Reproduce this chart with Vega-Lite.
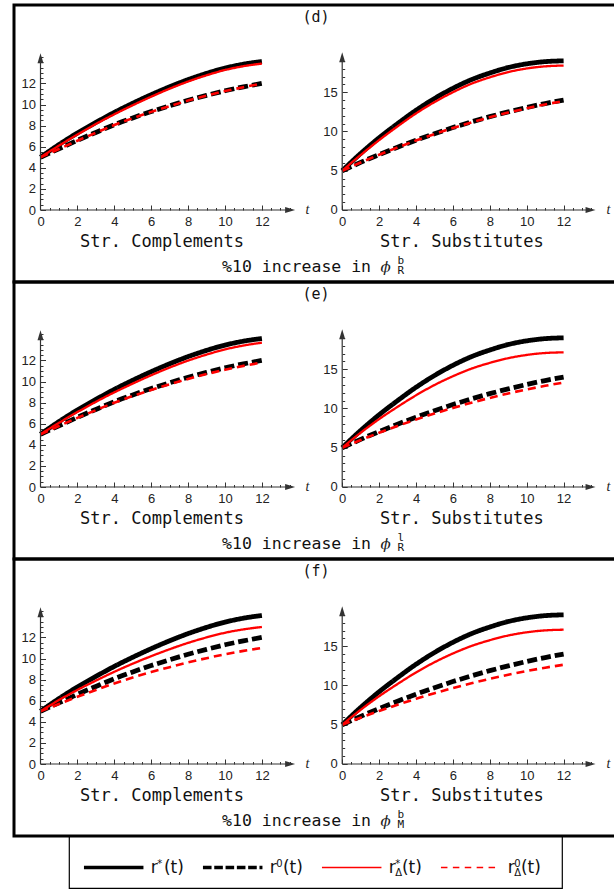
{
"$schema": "https://vega.github.io/schema/vega-lite/v6.json",
"background": "white",
"padding": {"left": 12, "top": 3, "right": 0, "bottom": 0},
"autosize": {"type": "pad"},
"config": {"view": {"stroke": null}, "axis": {"domain": false, "grid": false, "title": null, "labelFont": "Liberation Sans", "labelFontSize": 13, "labelColor": "#222", "tickColor": "#333", "tickWidth": 1, "labelFlush": false, "labelOverlap": false}},
"datasets": {
"curves": [
{"panel":"d","side":"L","t":0,"rs":5,"r0":5,"rsd":5,"r0d":5},
{"panel":"d","side":"L","t":1,"rs":6.2,"r0":5.8,"rsd":6.1,"r0d":5.78},
{"panel":"d","side":"L","t":2,"rs":7.3,"r0":6.6,"rsd":7.15,"r0d":6.57},
{"panel":"d","side":"L","t":3,"rs":8.3,"r0":7.35,"rsd":8.15,"r0d":7.32},
{"panel":"d","side":"L","t":4,"rs":9.25,"r0":8.08,"rsd":9.07,"r0d":8.05},
{"panel":"d","side":"L","t":5,"rs":10.12,"r0":8.73,"rsd":9.93,"r0d":8.7},
{"panel":"d","side":"L","t":6,"rs":10.93,"r0":9.33,"rsd":10.74,"r0d":9.3},
{"panel":"d","side":"L","t":7,"rs":11.68,"r0":9.88,"rsd":11.5,"r0d":9.85},
{"panel":"d","side":"L","t":8,"rs":12.36,"r0":10.4,"rsd":12.18,"r0d":10.37},
{"panel":"d","side":"L","t":9,"rs":12.95,"r0":10.87,"rsd":12.77,"r0d":10.84},
{"panel":"d","side":"L","t":10,"rs":13.45,"r0":11.3,"rsd":13.27,"r0d":11.27},
{"panel":"d","side":"L","t":11,"rs":13.82,"r0":11.67,"rsd":13.63,"r0d":11.64},
{"panel":"d","side":"L","t":12,"rs":14.08,"r0":12.0,"rsd":13.88,"r0d":11.97},
{"panel":"d","side":"R","t":0,"rs":5,"r0":5,"rsd":5,"r0d":5},
{"panel":"d","side":"R","t":1,"rs":7.2,"r0":6.06,"rsd":7.0,"r0d":6.05},
{"panel":"d","side":"R","t":2,"rs":9.2,"r0":7.06,"rsd":8.9,"r0d":7.04},
{"panel":"d","side":"R","t":3,"rs":11.0,"r0":8.0,"rsd":10.65,"r0d":7.97},
{"panel":"d","side":"R","t":4,"rs":12.7,"r0":8.89,"rsd":12.3,"r0d":8.85},
{"panel":"d","side":"R","t":5,"rs":14.2,"r0":9.72,"rsd":13.75,"r0d":9.67},
{"panel":"d","side":"R","t":6,"rs":15.5,"r0":10.5,"rsd":15.0,"r0d":10.44},
{"panel":"d","side":"R","t":7,"rs":16.6,"r0":11.22,"rsd":16.08,"r0d":11.15},
{"panel":"d","side":"R","t":8,"rs":17.45,"r0":11.89,"rsd":16.9,"r0d":11.81},
{"panel":"d","side":"R","t":9,"rs":18.15,"r0":12.5,"rsd":17.57,"r0d":12.41},
{"panel":"d","side":"R","t":10,"rs":18.62,"r0":13.06,"rsd":18.03,"r0d":12.96},
{"panel":"d","side":"R","t":11,"rs":18.9,"r0":13.56,"rsd":18.3,"r0d":13.45},
{"panel":"d","side":"R","t":12,"rs":19.0,"r0":14.0,"rsd":18.4,"r0d":13.88},
{"panel":"e","side":"L","t":0,"rs":5,"r0":5,"rsd":5,"r0d":5},
{"panel":"e","side":"L","t":1,"rs":6.2,"r0":5.8,"rsd":6.08,"r0d":5.78},
{"panel":"e","side":"L","t":2,"rs":7.3,"r0":6.6,"rsd":7.1,"r0d":6.55},
{"panel":"e","side":"L","t":3,"rs":8.3,"r0":7.35,"rsd":8.07,"r0d":7.28},
{"panel":"e","side":"L","t":4,"rs":9.25,"r0":8.08,"rsd":8.97,"r0d":7.99},
{"panel":"e","side":"L","t":5,"rs":10.12,"r0":8.73,"rsd":9.8,"r0d":8.62},
{"panel":"e","side":"L","t":6,"rs":10.93,"r0":9.33,"rsd":10.59,"r0d":9.2},
{"panel":"e","side":"L","t":7,"rs":11.68,"r0":9.88,"rsd":11.32,"r0d":9.74},
{"panel":"e","side":"L","t":8,"rs":12.36,"r0":10.4,"rsd":11.98,"r0d":10.24},
{"panel":"e","side":"L","t":9,"rs":12.95,"r0":10.87,"rsd":12.55,"r0d":10.7},
{"panel":"e","side":"L","t":10,"rs":13.45,"r0":11.3,"rsd":13.04,"r0d":11.12},
{"panel":"e","side":"L","t":11,"rs":13.82,"r0":11.67,"rsd":13.41,"r0d":11.48},
{"panel":"e","side":"L","t":12,"rs":14.08,"r0":12.0,"rsd":13.68,"r0d":11.8},
{"panel":"e","side":"R","t":0,"rs":5,"r0":5,"rsd":5,"r0d":5},
{"panel":"e","side":"R","t":1,"rs":7.2,"r0":6.06,"rsd":6.91,"r0d":5.98},
{"panel":"e","side":"R","t":2,"rs":9.2,"r0":7.06,"rsd":8.65,"r0d":6.9},
{"panel":"e","side":"R","t":3,"rs":11.0,"r0":8.0,"rsd":10.21,"r0d":7.77},
{"panel":"e","side":"R","t":4,"rs":12.7,"r0":8.89,"rsd":11.68,"r0d":8.59},
{"panel":"e","side":"R","t":5,"rs":14.2,"r0":9.72,"rsd":12.99,"r0d":9.35},
{"panel":"e","side":"R","t":6,"rs":15.5,"r0":10.5,"rsd":14.11,"r0d":10.07},
{"panel":"e","side":"R","t":7,"rs":16.6,"r0":11.22,"rsd":15.07,"r0d":10.73},
{"panel":"e","side":"R","t":8,"rs":17.45,"r0":11.89,"rsd":15.81,"r0d":11.35},
{"panel":"e","side":"R","t":9,"rs":18.15,"r0":12.5,"rsd":16.41,"r0d":11.92},
{"panel":"e","side":"R","t":10,"rs":18.62,"r0":13.06,"rsd":16.82,"r0d":12.43},
{"panel":"e","side":"R","t":11,"rs":18.9,"r0":13.56,"rsd":17.07,"r0d":12.89},
{"panel":"e","side":"R","t":12,"rs":19.0,"r0":14.0,"rsd":17.15,"r0d":13.3},
{"panel":"f","side":"L","t":0,"rs":5,"r0":5,"rsd":5,"r0d":5},
{"panel":"f","side":"L","t":1,"rs":6.2,"r0":5.8,"rsd":6.06,"r0d":5.69},
{"panel":"f","side":"L","t":2,"rs":7.3,"r0":6.6,"rsd":7.02,"r0d":6.37},
{"panel":"f","side":"L","t":3,"rs":8.3,"r0":7.35,"rsd":7.9,"r0d":7.01},
{"panel":"f","side":"L","t":4,"rs":9.25,"r0":8.08,"rsd":8.74,"r0d":7.64},
{"panel":"f","side":"L","t":5,"rs":10.12,"r0":8.73,"rsd":9.51,"r0d":8.2},
{"panel":"f","side":"L","t":6,"rs":10.93,"r0":9.33,"rsd":10.22,"r0d":8.71},
{"panel":"f","side":"L","t":7,"rs":11.68,"r0":9.88,"rsd":10.88,"r0d":9.18},
{"panel":"f","side":"L","t":8,"rs":12.36,"r0":10.4,"rsd":11.48,"r0d":9.63},
{"panel":"f","side":"L","t":9,"rs":12.95,"r0":10.87,"rsd":12.0,"r0d":10.03},
{"panel":"f","side":"L","t":10,"rs":13.45,"r0":11.3,"rsd":12.44,"r0d":10.4},
{"panel":"f","side":"L","t":11,"rs":13.82,"r0":11.67,"rsd":12.76,"r0d":10.72},
{"panel":"f","side":"L","t":12,"rs":14.08,"r0":12.0,"rsd":12.99,"r0d":11.0},
{"panel":"f","side":"R","t":0,"rs":5,"r0":5,"rsd":5,"r0d":5},
{"panel":"f","side":"R","t":1,"rs":7.2,"r0":6.06,"rsd":6.9,"r0d":5.9},
{"panel":"f","side":"R","t":2,"rs":9.2,"r0":7.06,"rsd":8.63,"r0d":6.75},
{"panel":"f","side":"R","t":3,"rs":11.0,"r0":8.0,"rsd":10.19,"r0d":7.55},
{"panel":"f","side":"R","t":4,"rs":12.7,"r0":8.89,"rsd":11.66,"r0d":8.3},
{"panel":"f","side":"R","t":5,"rs":14.2,"r0":9.72,"rsd":12.96,"r0d":9.01},
{"panel":"f","side":"R","t":6,"rs":15.5,"r0":10.5,"rsd":14.08,"r0d":9.67},
{"panel":"f","side":"R","t":7,"rs":16.6,"r0":11.22,"rsd":15.03,"r0d":10.28},
{"panel":"f","side":"R","t":8,"rs":17.45,"r0":11.89,"rsd":15.77,"r0d":10.85},
{"panel":"f","side":"R","t":9,"rs":18.15,"r0":12.5,"rsd":16.37,"r0d":11.37},
{"panel":"f","side":"R","t":10,"rs":18.62,"r0":13.06,"rsd":16.78,"r0d":11.84},
{"panel":"f","side":"R","t":11,"rs":18.9,"r0":13.56,"rsd":17.02,"r0d":12.27},
{"panel":"f","side":"R","t":12,"rs":19.0,"r0":14.0,"rsd":17.11,"r0d":12.64}
],
"legend": [
{"series":"rs","end":"a","main":"r","sup":"*","sub":""},
{"series":"rs","end":"b","main":"r","sup":"*","sub":""},
{"series":"r0","end":"a","main":"r","sup":"0","sub":""},
{"series":"r0","end":"b","main":"r","sup":"0","sub":""},
{"series":"rsd","end":"a","main":"r","sup":"*","sub":"Δ"},
{"series":"rsd","end":"b","main":"r","sup":"*","sub":"Δ"},
{"series":"r0d","end":"a","main":"r","sup":"0","sub":"Δ"},
{"series":"r0d","end":"b","main":"r","sup":"0","sub":"Δ"}
]
},
"vconcat": [
{
"width": 603, "height": 277,
"view": {"stroke": "black", "strokeWidth": 3},
"layer": [
{"data": {"name": "curves"},
 "transform": [{"filter": "datum.panel === 'd' && datum.side === 'L'"}, {"fold": ["rs","r0","rsd","r0d"], "as": ["series","v"]}],
 "mark": {"type": "line", "interpolate": "monotone"},
 "encoding": {
  "x": {"field": "t", "type": "quantitative", "scale": {"domain": [-1.4363, 31.2466], "nice": false, "zero": false}, "axis": {"orient": "bottom", "offset": -72, "values": [0,2,4,6,8,10,12], "tickSize": -5, "labelPadding": 10.5}},
  "y": {"field": "v", "type": "quantitative", "scale": {"domain": [-6.8246, 19.4313], "nice": false, "zero": false}, "axis": {"orient": "left", "offset": -26.5, "values": [0,2,4,6,8,10,12], "tickSize": -5, "labelPadding": 10}},
  "color": {"field": "series", "type": "nominal", "scale": {"domain": ["rs","r0","rsd","r0d"], "range": ["#000000","#000000","#ff0000","#ff0000"]}, "legend": null},
  "strokeDash": {"field": "series", "type": "nominal", "scale": {"domain": ["rs","r0","rsd","r0d"], "range": [[1,0],[10,4],[1,0],[8,5]]}, "legend": null},
  "strokeWidth": {"condition": [{"test": "datum.series === 'rs' || datum.series === 'r0'", "value": 4.8}, {"test": "datum.series === 'r0d'", "value": 2.6}], "value": 2.3}
 }},
{"data": {"values": [{}]}, "mark": {"type": "rule", "color": "#333", "strokeWidth": 1.2}, "encoding": {"x": {"datum": 0, "type": "quantitative", "scale": {"domain": [-1.4363, 31.2466], "nice": false, "zero": false}, "axis": {"orient": "bottom", "offset": -72, "values": [0.5,1,1.5,2.5,3,3.5,4.5,5,5.5,6.5,7,7.5,8.5,9,9.5,10.5,11,11.5,12.5,13,13.5], "labels": false, "tickSize": -2.5}}, "x2": {"datum": 13.5}, "y": {"datum": 0, "type": "quantitative", "scale": {"domain": [-6.8246, 19.4313], "nice": false, "zero": false}, "axis": null}}},
{"data": {"values": [{}]}, "mark": {"type": "rule", "color": "#333", "strokeWidth": 1.2}, "encoding": {"x": {"datum": 0, "type": "quantitative", "scale": {"domain": [-1.4363, 31.2466], "nice": false, "zero": false}, "axis": null}, "y": {"datum": 0, "type": "quantitative", "scale": {"domain": [-6.8246, 19.4313], "nice": false, "zero": false}, "axis": {"orient": "left", "offset": -26.5, "values": [0.5,1,1.5,2.5,3,3.5,4.5,5,5.5,6.5,7,7.5,8.5,9,9.5,10.5,11,11.5,12.5,13,13.5,14,14.5], "labels": false, "tickSize": -2.5}}, "y2": {"datum": 14.4}}},
{"data": {"values": [{}]}, "mark": {"type": "point", "shape": "M-1,-0.6L1,0L-1,0.6Z", "filled": true, "color": "#333", "opacity": 1, "size": 100}, "encoding": {"x": {"datum": 13.53, "type": "quantitative", "scale": {"domain": [-1.4363, 31.2466], "nice": false, "zero": false}, "axis": null}, "y": {"datum": 0, "type": "quantitative", "scale": {"domain": [-6.8246, 19.4313], "nice": false, "zero": false}, "axis": null}}},
{"data": {"values": [{}]}, "mark": {"type": "point", "shape": "M-0.6,1L0,-1L0.6,1Z", "filled": true, "color": "#333", "opacity": 1, "size": 100}, "encoding": {"x": {"datum": 0, "type": "quantitative", "scale": {"domain": [-1.4363, 31.2466], "nice": false, "zero": false}, "axis": null}, "y": {"datum": 14.39, "type": "quantitative", "scale": {"domain": [-6.8246, 19.4313], "nice": false, "zero": false}, "axis": null}}},
{"data": {"values": [{}]}, "mark": {"type": "text", "text": "t", "font": "Liberation Serif", "fontStyle": "italic", "fontSize": 14, "align": "left", "baseline": "alphabetic", "color": "#222"}, "encoding": {"x": {"datum": 14.36, "type": "quantitative", "scale": {"domain": [-1.4363, 31.2466], "nice": false, "zero": false}, "axis": null}, "y": {"datum": -0.36, "type": "quantitative", "scale": {"domain": [-6.8246, 19.4313], "nice": false, "zero": false}, "axis": null}}},
{"data": {"values": [{}]}, "mark": {"type": "text", "text": "Str. Complements", "font": "DejaVu Sans Mono", "fontSize": 17, "align": "center", "baseline": "alphabetic", "color": "#111"}, "encoding": {"x": {"datum": 6.585, "type": "quantitative", "scale": {"domain": [-1.4363, 31.2466], "nice": false, "zero": false}, "axis": null}, "y": {"datum": -3.46, "type": "quantitative", "scale": {"domain": [-6.8246, 19.4313], "nice": false, "zero": false}, "axis": null}}},
{"data": {"values": [{}]}, "mark": {"type": "text", "text": "(d)", "font": "DejaVu Sans Mono", "fontSize": 15, "align": "center", "baseline": "alphabetic", "color": "#111"}, "encoding": {"x": {"datum": 14.93, "type": "quantitative", "scale": {"domain": [-1.4363, 31.2466], "nice": false, "zero": false}, "axis": null}, "y": {"datum": 17.8, "type": "quantitative", "scale": {"domain": [-6.8246, 19.4313], "nice": false, "zero": false}, "axis": null}}},
{"data": {"values": [{}]}, "mark": {"type": "text", "text": "%10 increase in", "font": "DejaVu Sans Mono", "fontSize": 16.5, "align": "left", "baseline": "alphabetic", "color": "#111"}, "encoding": {"x": {"datum": 9.84, "type": "quantitative", "scale": {"domain": [-1.4363, 31.2466], "nice": false, "zero": false}, "axis": null}, "y": {"datum": -5.83, "type": "quantitative", "scale": {"domain": [-6.8246, 19.4313], "nice": false, "zero": false}, "axis": null}}},
{"data": {"values": [{}]}, "mark": {"type": "text", "text": "ϕ", "font": "DejaVu Serif", "fontStyle": "italic", "fontSize": 15, "align": "left", "baseline": "alphabetic", "color": "#222"}, "encoding": {"x": {"datum": 18.43, "type": "quantitative", "scale": {"domain": [-1.4363, 31.2466], "nice": false, "zero": false}, "axis": null}, "y": {"datum": -5.83, "type": "quantitative", "scale": {"domain": [-6.8246, 19.4313], "nice": false, "zero": false}, "axis": null}}},
{"data": {"values": [{}]}, "mark": {"type": "text", "text": "b", "font": "DejaVu Sans Mono", "fontSize": 11, "align": "left", "baseline": "alphabetic", "color": "#111"}, "encoding": {"x": {"datum": 19.35, "type": "quantitative", "scale": {"domain": [-1.4363, 31.2466], "nice": false, "zero": false}, "axis": null}, "y": {"datum": -5.1, "type": "quantitative", "scale": {"domain": [-6.8246, 19.4313], "nice": false, "zero": false}, "axis": null}}},
{"data": {"values": [{}]}, "mark": {"type": "text", "text": "R", "font": "DejaVu Sans Mono", "fontSize": 11, "align": "left", "baseline": "alphabetic", "color": "#111"}, "encoding": {"x": {"datum": 19.35, "type": "quantitative", "scale": {"domain": [-1.4363, 31.2466], "nice": false, "zero": false}, "axis": null}, "y": {"datum": -6.11, "type": "quantitative", "scale": {"domain": [-6.8246, 19.4313], "nice": false, "zero": false}, "axis": null}}},
{"data": {"name": "curves"},
 "transform": [{"filter": "datum.panel === 'd' && datum.side === 'R'"}, {"fold": ["rs","r0","rsd","r0d"], "as": ["series","v"]}],
 "mark": {"type": "line", "interpolate": "monotone"},
 "encoding": {
  "x": {"field": "t", "type": "quantitative", "scale": {"domain": [-17.789, 14.894], "nice": false, "zero": false}, "axis": {"orient": "bottom", "offset": -72, "values": [0,2,4,6,8,10,12], "tickSize": -5, "labelPadding": 10.5}},
  "y": {"field": "v", "type": "quantitative", "scale": {"domain": [-9.172, 26.1146], "nice": false, "zero": false}, "axis": {"orient": "left", "offset": -328.2, "values": [0,5,10,15], "tickSize": -5, "labelPadding": 10}},
  "color": {"field": "series", "type": "nominal", "scale": {"domain": ["rs","r0","rsd","r0d"], "range": ["#000000","#000000","#ff0000","#ff0000"]}, "legend": null},
  "strokeDash": {"field": "series", "type": "nominal", "scale": {"domain": ["rs","r0","rsd","r0d"], "range": [[1,0],[10,4],[1,0],[8,5]]}, "legend": null},
  "strokeWidth": {"condition": [{"test": "datum.series === 'rs' || datum.series === 'r0'", "value": 4.8}, {"test": "datum.series === 'r0d'", "value": 2.6}], "value": 2.3}
 }},
{"data": {"values": [{}]}, "mark": {"type": "rule", "color": "#333", "strokeWidth": 1.2}, "encoding": {"x": {"datum": 0, "type": "quantitative", "scale": {"domain": [-17.789, 14.894], "nice": false, "zero": false}, "axis": {"orient": "bottom", "offset": -72, "values": [0.5,1,1.5,2.5,3,3.5,4.5,5,5.5,6.5,7,7.5,8.5,9,9.5,10.5,11,11.5,12.5,13,13.5], "labels": false, "tickSize": -2.5}}, "x2": {"datum": 13.45}, "y": {"datum": 0, "type": "quantitative", "scale": {"domain": [-9.172, 26.1146], "nice": false, "zero": false}, "axis": null}}},
{"data": {"values": [{}]}, "mark": {"type": "rule", "color": "#333", "strokeWidth": 1.2}, "encoding": {"x": {"datum": 0, "type": "quantitative", "scale": {"domain": [-17.789, 14.894], "nice": false, "zero": false}, "axis": null}, "y": {"datum": 0, "type": "quantitative", "scale": {"domain": [-9.172, 26.1146], "nice": false, "zero": false}, "axis": {"orient": "left", "offset": -328.2, "values": [1,2,3,4,6,7,8,9,11,12,13,14,16,17,18,19], "labels": false, "tickSize": -2.5}}, "y2": {"datum": 19.5}}},
{"data": {"values": [{}]}, "mark": {"type": "point", "shape": "M-1,-0.6L1,0L-1,0.6Z", "filled": true, "color": "#333", "opacity": 1, "size": 100}, "encoding": {"x": {"datum": 13.46, "type": "quantitative", "scale": {"domain": [-17.789, 14.894], "nice": false, "zero": false}, "axis": null}, "y": {"datum": 0, "type": "quantitative", "scale": {"domain": [-9.172, 26.1146], "nice": false, "zero": false}, "axis": null}}},
{"data": {"values": [{}]}, "mark": {"type": "point", "shape": "M-0.6,1L0,-1L0.6,1Z", "filled": true, "color": "#333", "opacity": 1, "size": 100}, "encoding": {"x": {"datum": 0, "type": "quantitative", "scale": {"domain": [-17.789, 14.894], "nice": false, "zero": false}, "axis": null}, "y": {"datum": 19.46, "type": "quantitative", "scale": {"domain": [-9.172, 26.1146], "nice": false, "zero": false}, "axis": null}}},
{"data": {"values": [{}]}, "mark": {"type": "text", "text": "t", "font": "Liberation Serif", "fontStyle": "italic", "fontSize": 14, "align": "left", "baseline": "alphabetic", "color": "#222"}, "encoding": {"x": {"datum": 14.33, "type": "quantitative", "scale": {"domain": [-17.789, 14.894], "nice": false, "zero": false}, "axis": null}, "y": {"datum": -0.48, "type": "quantitative", "scale": {"domain": [-9.172, 26.1146], "nice": false, "zero": false}, "axis": null}}},
{"data": {"values": [{}]}, "mark": {"type": "text", "text": "Str. Substitutes", "font": "DejaVu Sans Mono", "fontSize": 17, "align": "center", "baseline": "alphabetic", "color": "#111"}, "encoding": {"x": {"datum": 6.49, "type": "quantitative", "scale": {"domain": [-17.789, 14.894], "nice": false, "zero": false}, "axis": null}, "y": {"datum": -4.65, "type": "quantitative", "scale": {"domain": [-9.172, 26.1146], "nice": false, "zero": false}, "axis": null}}}
],
"resolve": {"scale": {"x": "independent", "y": "independent"}, "axis": {"x": "independent", "y": "independent"}}
},
{
"width": 603, "height": 277,
"view": {"stroke": "black", "strokeWidth": 3},
"layer": [
{"data": {"name": "curves"},
 "transform": [{"filter": "datum.panel === 'e' && datum.side === 'L'"}, {"fold": ["rs","r0","rsd","r0d"], "as": ["series","v"]}],
 "mark": {"type": "line", "interpolate": "monotone"},
 "encoding": {
  "x": {"field": "t", "type": "quantitative", "scale": {"domain": [-1.4363, 31.2466], "nice": false, "zero": false}, "axis": {"orient": "bottom", "offset": -72, "values": [0,2,4,6,8,10,12], "tickSize": -5, "labelPadding": 10.5}},
  "y": {"field": "v", "type": "quantitative", "scale": {"domain": [-6.8246, 19.4313], "nice": false, "zero": false}, "axis": {"orient": "left", "offset": -26.5, "values": [0,2,4,6,8,10,12], "tickSize": -5, "labelPadding": 10}},
  "color": {"field": "series", "type": "nominal", "scale": {"domain": ["rs","r0","rsd","r0d"], "range": ["#000000","#000000","#ff0000","#ff0000"]}, "legend": null},
  "strokeDash": {"field": "series", "type": "nominal", "scale": {"domain": ["rs","r0","rsd","r0d"], "range": [[1,0],[10,4],[1,0],[8,5]]}, "legend": null},
  "strokeWidth": {"condition": [{"test": "datum.series === 'rs' || datum.series === 'r0'", "value": 4.8}, {"test": "datum.series === 'r0d'", "value": 2.6}], "value": 2.3}
 }},
{"data": {"values": [{}]}, "mark": {"type": "rule", "color": "#333", "strokeWidth": 1.2}, "encoding": {"x": {"datum": 0, "type": "quantitative", "scale": {"domain": [-1.4363, 31.2466], "nice": false, "zero": false}, "axis": {"orient": "bottom", "offset": -72, "values": [0.5,1,1.5,2.5,3,3.5,4.5,5,5.5,6.5,7,7.5,8.5,9,9.5,10.5,11,11.5,12.5,13,13.5], "labels": false, "tickSize": -2.5}}, "x2": {"datum": 13.5}, "y": {"datum": 0, "type": "quantitative", "scale": {"domain": [-6.8246, 19.4313], "nice": false, "zero": false}, "axis": null}}},
{"data": {"values": [{}]}, "mark": {"type": "rule", "color": "#333", "strokeWidth": 1.2}, "encoding": {"x": {"datum": 0, "type": "quantitative", "scale": {"domain": [-1.4363, 31.2466], "nice": false, "zero": false}, "axis": null}, "y": {"datum": 0, "type": "quantitative", "scale": {"domain": [-6.8246, 19.4313], "nice": false, "zero": false}, "axis": {"orient": "left", "offset": -26.5, "values": [0.5,1,1.5,2.5,3,3.5,4.5,5,5.5,6.5,7,7.5,8.5,9,9.5,10.5,11,11.5,12.5,13,13.5,14,14.5], "labels": false, "tickSize": -2.5}}, "y2": {"datum": 14.4}}},
{"data": {"values": [{}]}, "mark": {"type": "point", "shape": "M-1,-0.6L1,0L-1,0.6Z", "filled": true, "color": "#333", "opacity": 1, "size": 100}, "encoding": {"x": {"datum": 13.53, "type": "quantitative", "scale": {"domain": [-1.4363, 31.2466], "nice": false, "zero": false}, "axis": null}, "y": {"datum": 0, "type": "quantitative", "scale": {"domain": [-6.8246, 19.4313], "nice": false, "zero": false}, "axis": null}}},
{"data": {"values": [{}]}, "mark": {"type": "point", "shape": "M-0.6,1L0,-1L0.6,1Z", "filled": true, "color": "#333", "opacity": 1, "size": 100}, "encoding": {"x": {"datum": 0, "type": "quantitative", "scale": {"domain": [-1.4363, 31.2466], "nice": false, "zero": false}, "axis": null}, "y": {"datum": 14.39, "type": "quantitative", "scale": {"domain": [-6.8246, 19.4313], "nice": false, "zero": false}, "axis": null}}},
{"data": {"values": [{}]}, "mark": {"type": "text", "text": "t", "font": "Liberation Serif", "fontStyle": "italic", "fontSize": 14, "align": "left", "baseline": "alphabetic", "color": "#222"}, "encoding": {"x": {"datum": 14.36, "type": "quantitative", "scale": {"domain": [-1.4363, 31.2466], "nice": false, "zero": false}, "axis": null}, "y": {"datum": -0.36, "type": "quantitative", "scale": {"domain": [-6.8246, 19.4313], "nice": false, "zero": false}, "axis": null}}},
{"data": {"values": [{}]}, "mark": {"type": "text", "text": "Str. Complements", "font": "DejaVu Sans Mono", "fontSize": 17, "align": "center", "baseline": "alphabetic", "color": "#111"}, "encoding": {"x": {"datum": 6.585, "type": "quantitative", "scale": {"domain": [-1.4363, 31.2466], "nice": false, "zero": false}, "axis": null}, "y": {"datum": -3.46, "type": "quantitative", "scale": {"domain": [-6.8246, 19.4313], "nice": false, "zero": false}, "axis": null}}},
{"data": {"values": [{}]}, "mark": {"type": "text", "text": "(e)", "font": "DejaVu Sans Mono", "fontSize": 15, "align": "center", "baseline": "alphabetic", "color": "#111"}, "encoding": {"x": {"datum": 14.93, "type": "quantitative", "scale": {"domain": [-1.4363, 31.2466], "nice": false, "zero": false}, "axis": null}, "y": {"datum": 17.8, "type": "quantitative", "scale": {"domain": [-6.8246, 19.4313], "nice": false, "zero": false}, "axis": null}}},
{"data": {"values": [{}]}, "mark": {"type": "text", "text": "%10 increase in", "font": "DejaVu Sans Mono", "fontSize": 16.5, "align": "left", "baseline": "alphabetic", "color": "#111"}, "encoding": {"x": {"datum": 9.84, "type": "quantitative", "scale": {"domain": [-1.4363, 31.2466], "nice": false, "zero": false}, "axis": null}, "y": {"datum": -5.83, "type": "quantitative", "scale": {"domain": [-6.8246, 19.4313], "nice": false, "zero": false}, "axis": null}}},
{"data": {"values": [{}]}, "mark": {"type": "text", "text": "ϕ", "font": "DejaVu Serif", "fontStyle": "italic", "fontSize": 15, "align": "left", "baseline": "alphabetic", "color": "#222"}, "encoding": {"x": {"datum": 18.43, "type": "quantitative", "scale": {"domain": [-1.4363, 31.2466], "nice": false, "zero": false}, "axis": null}, "y": {"datum": -5.83, "type": "quantitative", "scale": {"domain": [-6.8246, 19.4313], "nice": false, "zero": false}, "axis": null}}},
{"data": {"values": [{}]}, "mark": {"type": "text", "text": "l", "font": "DejaVu Sans Mono", "fontSize": 11, "align": "left", "baseline": "alphabetic", "color": "#111"}, "encoding": {"x": {"datum": 19.35, "type": "quantitative", "scale": {"domain": [-1.4363, 31.2466], "nice": false, "zero": false}, "axis": null}, "y": {"datum": -5.1, "type": "quantitative", "scale": {"domain": [-6.8246, 19.4313], "nice": false, "zero": false}, "axis": null}}},
{"data": {"values": [{}]}, "mark": {"type": "text", "text": "R", "font": "DejaVu Sans Mono", "fontSize": 11, "align": "left", "baseline": "alphabetic", "color": "#111"}, "encoding": {"x": {"datum": 19.35, "type": "quantitative", "scale": {"domain": [-1.4363, 31.2466], "nice": false, "zero": false}, "axis": null}, "y": {"datum": -6.11, "type": "quantitative", "scale": {"domain": [-6.8246, 19.4313], "nice": false, "zero": false}, "axis": null}}},
{"data": {"name": "curves"},
 "transform": [{"filter": "datum.panel === 'e' && datum.side === 'R'"}, {"fold": ["rs","r0","rsd","r0d"], "as": ["series","v"]}],
 "mark": {"type": "line", "interpolate": "monotone"},
 "encoding": {
  "x": {"field": "t", "type": "quantitative", "scale": {"domain": [-17.789, 14.894], "nice": false, "zero": false}, "axis": {"orient": "bottom", "offset": -72, "values": [0,2,4,6,8,10,12], "tickSize": -5, "labelPadding": 10.5}},
  "y": {"field": "v", "type": "quantitative", "scale": {"domain": [-9.172, 26.1146], "nice": false, "zero": false}, "axis": {"orient": "left", "offset": -328.2, "values": [0,5,10,15], "tickSize": -5, "labelPadding": 10}},
  "color": {"field": "series", "type": "nominal", "scale": {"domain": ["rs","r0","rsd","r0d"], "range": ["#000000","#000000","#ff0000","#ff0000"]}, "legend": null},
  "strokeDash": {"field": "series", "type": "nominal", "scale": {"domain": ["rs","r0","rsd","r0d"], "range": [[1,0],[10,4],[1,0],[8,5]]}, "legend": null},
  "strokeWidth": {"condition": [{"test": "datum.series === 'rs' || datum.series === 'r0'", "value": 4.8}, {"test": "datum.series === 'r0d'", "value": 2.6}], "value": 2.3}
 }},
{"data": {"values": [{}]}, "mark": {"type": "rule", "color": "#333", "strokeWidth": 1.2}, "encoding": {"x": {"datum": 0, "type": "quantitative", "scale": {"domain": [-17.789, 14.894], "nice": false, "zero": false}, "axis": {"orient": "bottom", "offset": -72, "values": [0.5,1,1.5,2.5,3,3.5,4.5,5,5.5,6.5,7,7.5,8.5,9,9.5,10.5,11,11.5,12.5,13,13.5], "labels": false, "tickSize": -2.5}}, "x2": {"datum": 13.45}, "y": {"datum": 0, "type": "quantitative", "scale": {"domain": [-9.172, 26.1146], "nice": false, "zero": false}, "axis": null}}},
{"data": {"values": [{}]}, "mark": {"type": "rule", "color": "#333", "strokeWidth": 1.2}, "encoding": {"x": {"datum": 0, "type": "quantitative", "scale": {"domain": [-17.789, 14.894], "nice": false, "zero": false}, "axis": null}, "y": {"datum": 0, "type": "quantitative", "scale": {"domain": [-9.172, 26.1146], "nice": false, "zero": false}, "axis": {"orient": "left", "offset": -328.2, "values": [1,2,3,4,6,7,8,9,11,12,13,14,16,17,18,19], "labels": false, "tickSize": -2.5}}, "y2": {"datum": 19.5}}},
{"data": {"values": [{}]}, "mark": {"type": "point", "shape": "M-1,-0.6L1,0L-1,0.6Z", "filled": true, "color": "#333", "opacity": 1, "size": 100}, "encoding": {"x": {"datum": 13.46, "type": "quantitative", "scale": {"domain": [-17.789, 14.894], "nice": false, "zero": false}, "axis": null}, "y": {"datum": 0, "type": "quantitative", "scale": {"domain": [-9.172, 26.1146], "nice": false, "zero": false}, "axis": null}}},
{"data": {"values": [{}]}, "mark": {"type": "point", "shape": "M-0.6,1L0,-1L0.6,1Z", "filled": true, "color": "#333", "opacity": 1, "size": 100}, "encoding": {"x": {"datum": 0, "type": "quantitative", "scale": {"domain": [-17.789, 14.894], "nice": false, "zero": false}, "axis": null}, "y": {"datum": 19.46, "type": "quantitative", "scale": {"domain": [-9.172, 26.1146], "nice": false, "zero": false}, "axis": null}}},
{"data": {"values": [{}]}, "mark": {"type": "text", "text": "t", "font": "Liberation Serif", "fontStyle": "italic", "fontSize": 14, "align": "left", "baseline": "alphabetic", "color": "#222"}, "encoding": {"x": {"datum": 14.33, "type": "quantitative", "scale": {"domain": [-17.789, 14.894], "nice": false, "zero": false}, "axis": null}, "y": {"datum": -0.48, "type": "quantitative", "scale": {"domain": [-9.172, 26.1146], "nice": false, "zero": false}, "axis": null}}},
{"data": {"values": [{}]}, "mark": {"type": "text", "text": "Str. Substitutes", "font": "DejaVu Sans Mono", "fontSize": 17, "align": "center", "baseline": "alphabetic", "color": "#111"}, "encoding": {"x": {"datum": 6.49, "type": "quantitative", "scale": {"domain": [-17.789, 14.894], "nice": false, "zero": false}, "axis": null}, "y": {"datum": -4.65, "type": "quantitative", "scale": {"domain": [-9.172, 26.1146], "nice": false, "zero": false}, "axis": null}}}
],
"resolve": {"scale": {"x": "independent", "y": "independent"}, "axis": {"x": "independent", "y": "independent"}}
},
{
"width": 603, "height": 277,
"view": {"stroke": "black", "strokeWidth": 3},
"layer": [
{"data": {"name": "curves"},
 "transform": [{"filter": "datum.panel === 'f' && datum.side === 'L'"}, {"fold": ["rs","r0","rsd","r0d"], "as": ["series","v"]}],
 "mark": {"type": "line", "interpolate": "monotone"},
 "encoding": {
  "x": {"field": "t", "type": "quantitative", "scale": {"domain": [-1.4363, 31.2466], "nice": false, "zero": false}, "axis": {"orient": "bottom", "offset": -72, "values": [0,2,4,6,8,10,12], "tickSize": -5, "labelPadding": 10.5}},
  "y": {"field": "v", "type": "quantitative", "scale": {"domain": [-6.8246, 19.4313], "nice": false, "zero": false}, "axis": {"orient": "left", "offset": -26.5, "values": [0,2,4,6,8,10,12], "tickSize": -5, "labelPadding": 10}},
  "color": {"field": "series", "type": "nominal", "scale": {"domain": ["rs","r0","rsd","r0d"], "range": ["#000000","#000000","#ff0000","#ff0000"]}, "legend": null},
  "strokeDash": {"field": "series", "type": "nominal", "scale": {"domain": ["rs","r0","rsd","r0d"], "range": [[1,0],[10,4],[1,0],[8,5]]}, "legend": null},
  "strokeWidth": {"condition": [{"test": "datum.series === 'rs' || datum.series === 'r0'", "value": 4.8}, {"test": "datum.series === 'r0d'", "value": 2.6}], "value": 2.3}
 }},
{"data": {"values": [{}]}, "mark": {"type": "rule", "color": "#333", "strokeWidth": 1.2}, "encoding": {"x": {"datum": 0, "type": "quantitative", "scale": {"domain": [-1.4363, 31.2466], "nice": false, "zero": false}, "axis": {"orient": "bottom", "offset": -72, "values": [0.5,1,1.5,2.5,3,3.5,4.5,5,5.5,6.5,7,7.5,8.5,9,9.5,10.5,11,11.5,12.5,13,13.5], "labels": false, "tickSize": -2.5}}, "x2": {"datum": 13.5}, "y": {"datum": 0, "type": "quantitative", "scale": {"domain": [-6.8246, 19.4313], "nice": false, "zero": false}, "axis": null}}},
{"data": {"values": [{}]}, "mark": {"type": "rule", "color": "#333", "strokeWidth": 1.2}, "encoding": {"x": {"datum": 0, "type": "quantitative", "scale": {"domain": [-1.4363, 31.2466], "nice": false, "zero": false}, "axis": null}, "y": {"datum": 0, "type": "quantitative", "scale": {"domain": [-6.8246, 19.4313], "nice": false, "zero": false}, "axis": {"orient": "left", "offset": -26.5, "values": [0.5,1,1.5,2.5,3,3.5,4.5,5,5.5,6.5,7,7.5,8.5,9,9.5,10.5,11,11.5,12.5,13,13.5,14,14.5], "labels": false, "tickSize": -2.5}}, "y2": {"datum": 14.4}}},
{"data": {"values": [{}]}, "mark": {"type": "point", "shape": "M-1,-0.6L1,0L-1,0.6Z", "filled": true, "color": "#333", "opacity": 1, "size": 100}, "encoding": {"x": {"datum": 13.53, "type": "quantitative", "scale": {"domain": [-1.4363, 31.2466], "nice": false, "zero": false}, "axis": null}, "y": {"datum": 0, "type": "quantitative", "scale": {"domain": [-6.8246, 19.4313], "nice": false, "zero": false}, "axis": null}}},
{"data": {"values": [{}]}, "mark": {"type": "point", "shape": "M-0.6,1L0,-1L0.6,1Z", "filled": true, "color": "#333", "opacity": 1, "size": 100}, "encoding": {"x": {"datum": 0, "type": "quantitative", "scale": {"domain": [-1.4363, 31.2466], "nice": false, "zero": false}, "axis": null}, "y": {"datum": 14.39, "type": "quantitative", "scale": {"domain": [-6.8246, 19.4313], "nice": false, "zero": false}, "axis": null}}},
{"data": {"values": [{}]}, "mark": {"type": "text", "text": "t", "font": "Liberation Serif", "fontStyle": "italic", "fontSize": 14, "align": "left", "baseline": "alphabetic", "color": "#222"}, "encoding": {"x": {"datum": 14.36, "type": "quantitative", "scale": {"domain": [-1.4363, 31.2466], "nice": false, "zero": false}, "axis": null}, "y": {"datum": -0.36, "type": "quantitative", "scale": {"domain": [-6.8246, 19.4313], "nice": false, "zero": false}, "axis": null}}},
{"data": {"values": [{}]}, "mark": {"type": "text", "text": "Str. Complements", "font": "DejaVu Sans Mono", "fontSize": 17, "align": "center", "baseline": "alphabetic", "color": "#111"}, "encoding": {"x": {"datum": 6.585, "type": "quantitative", "scale": {"domain": [-1.4363, 31.2466], "nice": false, "zero": false}, "axis": null}, "y": {"datum": -3.46, "type": "quantitative", "scale": {"domain": [-6.8246, 19.4313], "nice": false, "zero": false}, "axis": null}}},
{"data": {"values": [{}]}, "mark": {"type": "text", "text": "(f)", "font": "DejaVu Sans Mono", "fontSize": 15, "align": "center", "baseline": "alphabetic", "color": "#111"}, "encoding": {"x": {"datum": 14.93, "type": "quantitative", "scale": {"domain": [-1.4363, 31.2466], "nice": false, "zero": false}, "axis": null}, "y": {"datum": 17.8, "type": "quantitative", "scale": {"domain": [-6.8246, 19.4313], "nice": false, "zero": false}, "axis": null}}},
{"data": {"values": [{}]}, "mark": {"type": "text", "text": "%10 increase in", "font": "DejaVu Sans Mono", "fontSize": 16.5, "align": "left", "baseline": "alphabetic", "color": "#111"}, "encoding": {"x": {"datum": 9.84, "type": "quantitative", "scale": {"domain": [-1.4363, 31.2466], "nice": false, "zero": false}, "axis": null}, "y": {"datum": -5.83, "type": "quantitative", "scale": {"domain": [-6.8246, 19.4313], "nice": false, "zero": false}, "axis": null}}},
{"data": {"values": [{}]}, "mark": {"type": "text", "text": "ϕ", "font": "DejaVu Serif", "fontStyle": "italic", "fontSize": 15, "align": "left", "baseline": "alphabetic", "color": "#222"}, "encoding": {"x": {"datum": 18.43, "type": "quantitative", "scale": {"domain": [-1.4363, 31.2466], "nice": false, "zero": false}, "axis": null}, "y": {"datum": -5.83, "type": "quantitative", "scale": {"domain": [-6.8246, 19.4313], "nice": false, "zero": false}, "axis": null}}},
{"data": {"values": [{}]}, "mark": {"type": "text", "text": "b", "font": "DejaVu Sans Mono", "fontSize": 11, "align": "left", "baseline": "alphabetic", "color": "#111"}, "encoding": {"x": {"datum": 19.35, "type": "quantitative", "scale": {"domain": [-1.4363, 31.2466], "nice": false, "zero": false}, "axis": null}, "y": {"datum": -5.1, "type": "quantitative", "scale": {"domain": [-6.8246, 19.4313], "nice": false, "zero": false}, "axis": null}}},
{"data": {"values": [{}]}, "mark": {"type": "text", "text": "M", "font": "DejaVu Sans Mono", "fontSize": 11, "align": "left", "baseline": "alphabetic", "color": "#111"}, "encoding": {"x": {"datum": 19.35, "type": "quantitative", "scale": {"domain": [-1.4363, 31.2466], "nice": false, "zero": false}, "axis": null}, "y": {"datum": -6.11, "type": "quantitative", "scale": {"domain": [-6.8246, 19.4313], "nice": false, "zero": false}, "axis": null}}},
{"data": {"name": "curves"},
 "transform": [{"filter": "datum.panel === 'f' && datum.side === 'R'"}, {"fold": ["rs","r0","rsd","r0d"], "as": ["series","v"]}],
 "mark": {"type": "line", "interpolate": "monotone"},
 "encoding": {
  "x": {"field": "t", "type": "quantitative", "scale": {"domain": [-17.789, 14.894], "nice": false, "zero": false}, "axis": {"orient": "bottom", "offset": -72, "values": [0,2,4,6,8,10,12], "tickSize": -5, "labelPadding": 10.5}},
  "y": {"field": "v", "type": "quantitative", "scale": {"domain": [-9.172, 26.1146], "nice": false, "zero": false}, "axis": {"orient": "left", "offset": -328.2, "values": [0,5,10,15], "tickSize": -5, "labelPadding": 10}},
  "color": {"field": "series", "type": "nominal", "scale": {"domain": ["rs","r0","rsd","r0d"], "range": ["#000000","#000000","#ff0000","#ff0000"]}, "legend": null},
  "strokeDash": {"field": "series", "type": "nominal", "scale": {"domain": ["rs","r0","rsd","r0d"], "range": [[1,0],[10,4],[1,0],[8,5]]}, "legend": null},
  "strokeWidth": {"condition": [{"test": "datum.series === 'rs' || datum.series === 'r0'", "value": 4.8}, {"test": "datum.series === 'r0d'", "value": 2.6}], "value": 2.3}
 }},
{"data": {"values": [{}]}, "mark": {"type": "rule", "color": "#333", "strokeWidth": 1.2}, "encoding": {"x": {"datum": 0, "type": "quantitative", "scale": {"domain": [-17.789, 14.894], "nice": false, "zero": false}, "axis": {"orient": "bottom", "offset": -72, "values": [0.5,1,1.5,2.5,3,3.5,4.5,5,5.5,6.5,7,7.5,8.5,9,9.5,10.5,11,11.5,12.5,13,13.5], "labels": false, "tickSize": -2.5}}, "x2": {"datum": 13.45}, "y": {"datum": 0, "type": "quantitative", "scale": {"domain": [-9.172, 26.1146], "nice": false, "zero": false}, "axis": null}}},
{"data": {"values": [{}]}, "mark": {"type": "rule", "color": "#333", "strokeWidth": 1.2}, "encoding": {"x": {"datum": 0, "type": "quantitative", "scale": {"domain": [-17.789, 14.894], "nice": false, "zero": false}, "axis": null}, "y": {"datum": 0, "type": "quantitative", "scale": {"domain": [-9.172, 26.1146], "nice": false, "zero": false}, "axis": {"orient": "left", "offset": -328.2, "values": [1,2,3,4,6,7,8,9,11,12,13,14,16,17,18,19], "labels": false, "tickSize": -2.5}}, "y2": {"datum": 19.5}}},
{"data": {"values": [{}]}, "mark": {"type": "point", "shape": "M-1,-0.6L1,0L-1,0.6Z", "filled": true, "color": "#333", "opacity": 1, "size": 100}, "encoding": {"x": {"datum": 13.46, "type": "quantitative", "scale": {"domain": [-17.789, 14.894], "nice": false, "zero": false}, "axis": null}, "y": {"datum": 0, "type": "quantitative", "scale": {"domain": [-9.172, 26.1146], "nice": false, "zero": false}, "axis": null}}},
{"data": {"values": [{}]}, "mark": {"type": "point", "shape": "M-0.6,1L0,-1L0.6,1Z", "filled": true, "color": "#333", "opacity": 1, "size": 100}, "encoding": {"x": {"datum": 0, "type": "quantitative", "scale": {"domain": [-17.789, 14.894], "nice": false, "zero": false}, "axis": null}, "y": {"datum": 19.46, "type": "quantitative", "scale": {"domain": [-9.172, 26.1146], "nice": false, "zero": false}, "axis": null}}},
{"data": {"values": [{}]}, "mark": {"type": "text", "text": "t", "font": "Liberation Serif", "fontStyle": "italic", "fontSize": 14, "align": "left", "baseline": "alphabetic", "color": "#222"}, "encoding": {"x": {"datum": 14.33, "type": "quantitative", "scale": {"domain": [-17.789, 14.894], "nice": false, "zero": false}, "axis": null}, "y": {"datum": -0.48, "type": "quantitative", "scale": {"domain": [-9.172, 26.1146], "nice": false, "zero": false}, "axis": null}}},
{"data": {"values": [{}]}, "mark": {"type": "text", "text": "Str. Substitutes", "font": "DejaVu Sans Mono", "fontSize": 17, "align": "center", "baseline": "alphabetic", "color": "#111"}, "encoding": {"x": {"datum": 6.49, "type": "quantitative", "scale": {"domain": [-17.789, 14.894], "nice": false, "zero": false}, "axis": null}, "y": {"datum": -4.65, "type": "quantitative", "scale": {"domain": [-9.172, 26.1146], "nice": false, "zero": false}, "axis": null}}}
],
"resolve": {"scale": {"x": "independent", "y": "independent"}, "axis": {"x": "independent", "y": "independent"}}
},
{
"width": 493, "height": 52,
"view": {"stroke": "black", "strokeWidth": 1.2},
"data": {"name": "legend"},
"encoding": {
 "x": {"field": "series", "type": "nominal", "scale": {"domain": ["rs","r0","rsd","r0d"], "paddingInner": 0, "paddingOuter": 0.0714, "align": 0.88}, "axis": null},
 "y": {"datum": 0, "type": "quantitative", "scale": {"domain": [-1, 1]}, "axis": null},
 "xOffset": {"field": "end", "type": "nominal", "scale": {"type": "point", "domain": ["a","b","c"], "padding": 0}}
},
"layer": [
 {"mark": {"type": "line", "yOffset": 5.5},
  "encoding": {
   "color": {"field": "series", "type": "nominal", "scale": {"domain": ["rs","r0","rsd","r0d"], "range": ["#000000","#000000","#ff0000","#ff0000"]}, "legend": null},
   "strokeDash": {"field": "series", "type": "nominal", "scale": {"domain": ["rs","r0","rsd","r0d"], "range": [[1,0],[8.6,2.7],[1,0],[6.5,5.4]]}, "legend": null},
   "strokeWidth": {"condition": {"test": "datum.series === 'rs' || datum.series === 'r0'", "value": 3.3}, "value": 1.7}
  }},
 {"transform": [{"filter": "datum.end === 'b'"}], "mark": {"type": "text", "dx": 7.2, "dy": 10.5, "align": "left", "baseline": "alphabetic", "font": "DejaVu Sans", "fontSize": 17, "color": "#111"}, "encoding": {"text": {"field": "main"}}},
 {"transform": [{"filter": "datum.end === 'b'"}], "mark": {"type": "text", "dx": 13.7, "dy": 4.5, "align": "left", "baseline": "alphabetic", "font": "DejaVu Sans", "fontSize": 10, "color": "#111"}, "encoding": {"text": {"field": "sup"}}},
 {"transform": [{"filter": "datum.end === 'b'"}], "mark": {"type": "text", "dx": 13.7, "dy": 13.5, "align": "left", "baseline": "alphabetic", "font": "DejaVu Sans", "fontSize": 10, "color": "#111"}, "encoding": {"text": {"field": "sub"}}},
 {"transform": [{"filter": "datum.end === 'b'"}], "mark": {"type": "text", "text": "(t)", "dx": 20.5, "dy": 10.5, "align": "left", "baseline": "alphabetic", "font": "DejaVu Sans", "fontSize": 17, "color": "#111"}, "encoding": {}}
],
"resolve": {"scale": {"color": "independent", "strokeDash": "independent"}}
}
],
"spacing": 0,
"center": true,
"bounds": "flush",
"resolve": {"scale": {"color": "independent", "strokeDash": "independent"}}
}
